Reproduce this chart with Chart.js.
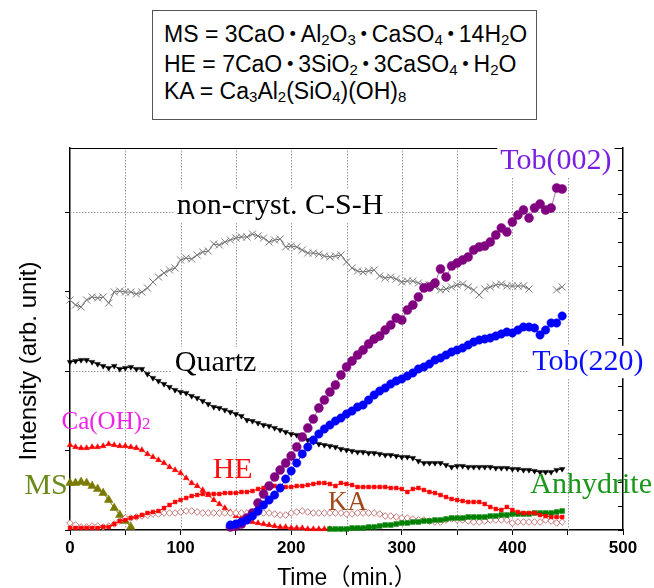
<!DOCTYPE html>
<html>
<head>
<meta charset="utf-8">
<script src="https://cdn.jsdelivr.net/npm/chart.js@4.4.1/dist/chart.umd.min.js"></script>
<style>
  html, body { margin:0; padding:0; background:#fff; }
  #wrap { position:relative; width:654px; height:588px; overflow:hidden; }
  #c { position:absolute; left:0; top:0; }
  #box { position:absolute; left:152px; top:10px; width:383px; height:108px; border:1px solid #555; background:#fff; }
  .ln { position:absolute; left:11px; white-space:nowrap; font-family:"Liberation Sans", Arial, "Noto Sans CJK JP", sans-serif; font-size:23px; line-height:30px; color:#000; }
  .ln sub { font-size:15px; vertical-align:-3px; line-height:0; }
  .dt { font-family:"Noto Sans CJK JP", sans-serif; font-weight:900; display:inline-block; width:16px; text-align:center; }
</style>
</head>
<body>
<div id="wrap">
  <canvas id="c" width="654" height="588"></canvas>
  <div id="box">
    <div class="ln" style="top:6px">MS = 3CaO<span class="dt">･</span>Al<sub>2</sub>O<sub>3</sub><span class="dt">･</span>CaSO<sub>4</sub><span class="dt">･</span>14H<sub>2</sub>O</div>
    <div class="ln" style="top:36px">HE = 7CaO<span class="dt">･</span>3SiO<sub>2</sub><span class="dt">･</span>3CaSO<sub>4</sub><span class="dt">･</span>H<sub>2</sub>O</div>
    <div class="ln" style="top:65px">KA = Ca<sub>3</sub>Al<sub>2</sub>(SiO<sub>4</sub>)(OH)<sub>8</sub></div>
  </div>
</div>
<script>
// ---------- data (time in minutes, intensity in arbitrary units) ----------
const timeAll = [0,5,10,15,20,25,30,35,40,45,50,55,60,65,70,75,80,85,90,95,100,105,110,115,120,125,130,135,140,145,150,155,160,165,170,175,180,185,190,195,200,205,210,215,220,225,230,235,240,245,250,255,260,265,270,275,280,285,290,295,300,305,310,315,320,325,330,335,340,345,350,355,360,365,370,375,380,385,390,395,400,405,410,415,420,425,430,435,440,445];
const timeCaOH = [0,5,10,15,20,25,30,35,40,45,50,55,60,65,70,75,80,85,90,95,100,105,110,115,120,125,130,135,140,145,150,155,160,165,170,175,180,185,190,195,200,205,210,215,220,225,230,235];
const timeMS = [0,5,10,15,20,25,30,35,40,45,50,55];
const timeTob = [145,150,155,160,165,170,175,180,185,190,195,200,205,210,215,220,225,230,235,240,245,250,255,260,265,270,275,280,285,290,295,300,305,310,315,320,325,330,335,340,345,350,355,360,365,370,375,380,385,390,395,400,405,410,415,420,425,430,435,440,445];
const timeAnh = [235,240,245,250,255,260,265,270,275,280,285,290,295,300,305,310,315,320,325,330,335,340,345,350,355,360,365,370,375,380,385,390,395,400,405,410,415,420,425,430,435,440,445];

const cshValues = [230,225,223,230,233,232,233,227,238,239,
  238,238,236,238,242,248,253,257,260,262,
  270,272,271,275,278,279,286,285,288,290,
  292,293,293,296,294,292,288,290,291,283,
  284,283,280,277,277,276,274,273,274,275,
  268,262,259,258,259,260,254,252,253,251,
  248,249,249,247,245,245,243,240,241,243,
  245,246,243,240,235,241,243,245,246,244,
  244,244,244,241,null,null,null,null,240,243];

const quartzValues = [168,169,170,170,168,166,164,162,164,161,
  162,163,161,161,156,152,149,146,143,140,
  138,137,134,132,129,126,123,122,120,118,
  116,114,110,109,107,105,104,102,100,98,
  96,95,92,90,88,86,85,84,83,81,
  80,79,78,78,77,77,76,75,75,74,
  73,73,72,69,67,67,67,67,65,63,
  64,64,63,63,63,63,63,62,62,62,
  61,61,60,60,59,58,58,58,60,61];

const caohValues = [85,83,82,82,83,83,84,86,85,84,
  84,83,82,80,76,73,70,67,63,60,
  57,52,47,44,40,35,30,26,22,18,
  14,12,10,8,7,6,5,4,3,3,
  2,2,2,1,1,1,1,1];

const msValues = [47,47,48,47,44,41,37,30,22,15,9,3];

const heValues = [2,2,2,2,2,2,3,3,6,9,
  10,12,13,15,17,18,19,22,25,28,
  30,32,34,35,36,36,36,36,37,37,
  37,38,38,39,41,42,43,44,43,43,
  43,44,44,45,46,47,47,46,44,47,
  46,45,43,43,43,43,43,43,42,42,
  41,38,41,42,40,38,37,35,33,31,
  30,29,28,28,28,26,23,21,20,23,
  20,18,17,17,17,15,14,13,13,13];

const kaValues = [7,5,3,3,4,4,3,4,6,9,
  12,12,13,14,15,16,16,17,17,17,
  18,19,19,18,17,17,17,17,17,17,
  17,17,17,17,17,17,17,16,15,15,
  17,18,19,18,17,17,17,17,17,17,
  16,16,17,17,17,17,16,14,14,13,
  12,12,11,10,10,9,8,8,10,11,
  10,10,9,8,8,9,10,10,10,10,
  7,8,8,8,8,8,10,9,7,8];

const tob002Values = [3,4,6,12,17,27,36,44,53,60,
  67,74,83,93,102,111,122,130,138,145,
  155,163,169,175,180,186,191,194,200,205,
  212,210,220,225,233,242,243,247,261,253,
  264,267,270,273,280,283,284,288,295,302,
  298,308,315,320,312,322,326,320,322,342,
  341];

const tob220Values = [5,6,8,10,14,19,25,30,35,42,
  51,59,67,76,83,90,96,101,105,109,
  112,116,119,123,125,130,135,139,142,146,
  149,151,154,157,161,163,166,170,172,175,
  178,180,182,185,188,190,191,192,194,196,
  198,197,200,203,203,202,195,200,207,207,
  214];

const anhValues = [1,1,1,1,2,2,2,3,3,4,
  5,5,6,7,7,8,8,9,9,10,
  10,11,12,12,12,13,13,13,13,14,
  14,15,15,16,16,16,16,17,17,17,
  17,18,19];

const xTickLabels = [0,100,200,300,400,500];
const xGridValues = [50,100,150,200,250,300,350,400,450];
const yGridValues = [159,318];

// ---------- styling ----------
const SANS = '"Liberation Sans", Arial, "Noto Sans CJK JP", sans-serif';
const SERIF = '"Liberation Serif", "Times New Roman", serif';

const seriesLabels = [
  {text:'non-cryst. C-S-H', t:96.5, v:316, color:'#000000', size:30, bg:true},
  {text:'Tob(002)', t:389, v:361, color:'#7a1fe0', size:30, bg:true},
  {text:'Quartz', t:94.7, v:159, color:'#000000', size:30, bg:true},
  {text:'Tob(220)', t:418, v:160, color:'#0a10ff', size:30, bg:true},
  {text:'Ca(OH)', sub:'2', t:-7.7, v:101, color:'#f020e8', size:25, bg:false},
  {text:'HE', t:129, v:52, color:'#ff1010', size:30, bg:false},
  {text:'MS', t:-41.2, v:36, color:'#6b8a1a', size:30, bg:false},
  {text:'KA', t:233.2, v:20, color:'#a04a1a', size:27, bg:false},
  {text:'Anhydrite', t:416.2, v:37, color:'#1a961a', size:30, bg:false}
];

function pts(times, vals){ return times.map((t,i)=>({x:t, y:vals[i]})); }

function ds(label, times, vals, o){
  return Object.assign({
    label, data: pts(times, vals), clip:false, tension:0, spanGaps:false, fill:false,
    borderWidth:1, pointBorderWidth:1, pointHoverRadius:0
  }, o);
}

const datasets = [
  ds('Tob(220)', timeTob, tob220Values, {borderColor:'#3a3aff', pointStyle:'circle', pointRadius:4.2, pointBackgroundColor:'#0000ff', pointBorderColor:'#0000ff', pointBorderWidth:0.5}),
  ds('Tob(002)', timeTob, tob002Values, {borderColor:'#b070b0', pointStyle:'circle', pointRadius:4.5, pointBackgroundColor:'#800080', pointBorderColor:'#800080', pointBorderWidth:0.5}),
  ds('Quartz', timeAll, quartzValues, {borderColor:'#000', pointStyle:'triangle', pointRotation:180, pointRadius:3.2, pointBackgroundColor:'#000', pointBorderColor:'#000', pointBorderWidth:0.5}),
  ds('C-S-H', timeAll, cshValues, {borderColor:'#444', borderWidth:0.8, pointStyle:'crossRot', pointRadius:5, pointBorderColor:'#7a7a7a', pointBackgroundColor:'#7a7a7a', pointBorderWidth:1}),
  ds('HE', timeAll, heValues, {borderColor:'#ff0000', pointStyle:'rect', pointRadius:2.7, pointBackgroundColor:'#ff0000', pointBorderColor:'#ff0000', pointBorderWidth:0.5}),
  ds('Anhydrite', timeAnh, anhValues, {borderColor:'#008000', borderWidth:2, pointStyle:'rect', pointRadius:3.4, pointBackgroundColor:'#008000', pointBorderColor:'#008000', pointBorderWidth:0.5}),
  ds('KA', timeAll, kaValues, {borderColor:'#d8a0a0', borderWidth:0.6, pointStyle:'rectRot', pointRadius:3.3, pointBackgroundColor:'#ffffff', pointBorderColor:'#b85858', pointBorderWidth:0.8}),
  ds('Ca(OH)2', timeCaOH, caohValues, {borderColor:'#ff0000', borderWidth:0.8, pointStyle:'triangle', pointRadius:3.3, pointBackgroundColor:'#ff0000', pointBorderColor:'#ff0000', pointBorderWidth:0.5}),
  ds('MS', timeMS, msValues, {borderColor:'#7a7a00', pointStyle:'triangle', pointRadius:5, pointBackgroundColor:'#7a7a00', pointBorderColor:'#7a7a00', pointBorderWidth:0.5})
];

const decor = {
  id:'decor',
  beforeDatasetsDraw(chart){
    const {ctx, chartArea:a, scales:{x, y}} = chart;
    ctx.save();
    ctx.strokeStyle = '#9a9a9a'; ctx.lineWidth = 1; ctx.setLineDash([1.5,1.5]);
    xGridValues.forEach(v=>{
      const px = Math.round(x.getPixelForValue(v))+0.5;
      ctx.beginPath(); ctx.moveTo(px, a.top); ctx.lineTo(px, a.bottom); ctx.stroke();
    });
    yGridValues.forEach(v=>{
      const py = Math.round(y.getPixelForValue(v))+0.5;
      ctx.beginPath(); ctx.moveTo(a.left, py); ctx.lineTo(a.right, py); ctx.stroke();
    });
    ctx.restore();
  },
  afterDatasetsDraw(chart){
    const {ctx, chartArea:a, scales} = chart;
    ctx.save();
    ctx.strokeStyle = '#000'; ctx.lineWidth = 1.2;
    ctx.beginPath(); ctx.moveTo(a.left, a.top+0.5); ctx.lineTo(a.right, a.top+0.5); ctx.stroke();
    const y2 = scales.y2;
    ctx.lineWidth = 1;
    y2.ticks.forEach(tk=>{
      const py = Math.round(y2.getPixelForValue(tk.value))+0.5;
      ctx.beginPath(); ctx.moveTo(a.right-5, py); ctx.lineTo(a.right, py); ctx.stroke();
    });
    const y = scales.y;
    [318].forEach(v=>{
      const py = Math.round(y.getPixelForValue(v))+0.5;
      ctx.beginPath(); ctx.moveTo(a.right, py); ctx.lineTo(a.right+5, py); ctx.stroke();
    });
    ctx.restore();
  },
  afterDraw(chart){
    const {ctx, scales:{x, y}} = chart;
    ctx.save();
    ctx.textAlign = 'left'; ctx.textBaseline = 'alphabetic';
    seriesLabels.forEach(d=>{
      const px = x.getPixelForValue(d.t), py = y.getPixelForValue(d.v);
      ctx.font = d.size + 'px ' + SERIF;
      const w = ctx.measureText(d.text).width;
      let sw = 0;
      if (d.sub){ ctx.font = Math.round(d.size*0.68) + 'px ' + SERIF; sw = ctx.measureText(d.sub).width; }
      if (d.bg){
        ctx.fillStyle = '#fff';
        ctx.fillRect(px-3, py - d.size*0.74 - 2, w + sw + 6, d.size*0.74 + d.size*0.24 + 3);
      }
      ctx.fillStyle = d.color;
      ctx.font = d.size + 'px ' + SERIF;
      ctx.fillText(d.text, px, py);
      if (d.sub){ ctx.font = Math.round(d.size*0.68) + 'px ' + SERIF; ctx.fillText(d.sub, px + w, py); }
    });
    ctx.fillStyle = '#000';
    ctx.font = '24px ' + SANS;
    ctx.save();
    ctx.translate(36, 361); ctx.rotate(-Math.PI/2);
    ctx.textAlign = 'center';
    ctx.fillText('Intensity (arb. unit)', 0, 0);
    ctx.restore();
    ctx.font = '23px ' + SANS;
    ctx.textAlign = 'center';
    ctx.fillText('Time（min.）', 347, 585);
    ctx.restore();
  }
};

new Chart(document.getElementById('c'), {
  type:'line',
  data:{ datasets },
  options:{
    responsive:false, animation:false, events:[],
    layout:{ padding:{ top:148, right:31, left:0, bottom:0 } },
    plugins:{ legend:{display:false}, tooltip:{enabled:false} },
    scales:{
      x:{
        type:'linear', min:0, max:500, position:'bottom',
        afterFit(s){ s.height = 58; },
        afterBuildTicks(s){ const t=[]; for(let v=0; v<=500; v+=50) t.push({value:v}); s.ticks = t; },
        ticks:{ autoSkip:false, maxRotation:0, padding:3, color:'#000',
          font:{ family:SANS, size:17, weight:'bold' },
          callback:(v)=> xTickLabels.includes(v) ? String(v) : '' },
        grid:{ drawOnChartArea:false, color:'#000', lineWidth:1, tickColor:'#000', tickLength:5, tickWidth:1 },
        border:{ color:'#000', width:1.5 }
      },
      y:{
        type:'linear', min:0, max:382, position:'left',
        afterFit(s){ s.width = 70; },
        afterBuildTicks(s){ s.ticks = [0,79.5,159,238.5,318].map(v=>({value:v})); },
        ticks:{ display:false },
        grid:{ drawOnChartArea:false, color:'#000', lineWidth:1, tickColor:'#000', tickLength:5, tickWidth:1 },
        border:{ color:'#000', width:1.5 }
      },
      y2:{
        type:'linear', min:0, max:382, position:'right',
        afterFit(s){ s.width = 0; },
        afterBuildTicks(s){ const t=[]; for(let v=0; v<=382; v+=24) t.push({value:v}); s.ticks = t; },
        ticks:{ display:false },
        grid:{ drawOnChartArea:false, drawTicks:false },
        border:{ color:'#000', width:1.5 }
      }
    }
  },
  plugins:[decor]
});
</script>
</body>
</html>
